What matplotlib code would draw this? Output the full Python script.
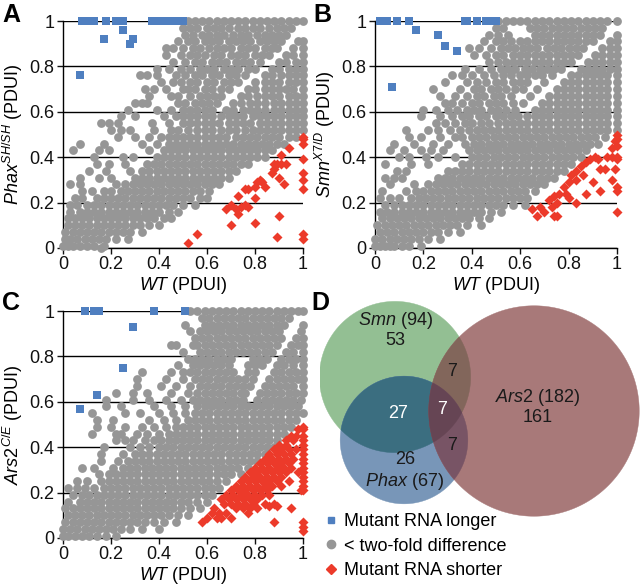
import numpy as np
import matplotlib
matplotlib.use("Agg")
import matplotlib.pyplot as plt
from matplotlib.patches import Polygon
from matplotlib.lines import Line2D

plt.rcParams['font.family'] = ['Liberation Sans', 'DejaVu Sans']
plt.rcParams['mathtext.fontset'] = 'custom'
plt.rcParams['mathtext.rm'] = 'Liberation Sans'
plt.rcParams['mathtext.it'] = 'Liberation Sans:italic'

# ---- data (values in hundredths, "y: x x x ...") ----
TICKS = [0, 0.2, 0.4, 0.6, 0.8, 1.0]
TICK_LABELS = ["0", "0.2", "0.4", "0.6", "0.8", "1"]

GRAY_A = """
100: 52 55 58 61 64 67 70 73 76 79 82 85 88 91 94 97 100
97: 50 53 56 60 63 66 69 73 76 79 82 86 89 92 95
94: 51 54 58 61 64 67 71 74 77 81 84 87 90 93
91: 48 52 55 59 62 65 69 72 75 78 82 85 88 91 98 100
88: 43 46 50 54 57 61 64 67 70 74 77 80 84 87 89 96 100
85: 43 49 53 56 59 63 66 70 73 76 80 83 86 93 96 100
82: 46 51 55 58 62 65 68 72 75 78 82 90 93 97 100
79: 39 44 49 53 57 60 63 67 70 73 77 80 87 90 94 97 100
76: 32 35 39 47 51 55 58 62 65 69 72 76 84 87 91 94 97 100
73: 41 46 49 53 56 60 63 67 70 73 80 84 87 90 94 97 100
70: 34 38 43 50 52 55 59 62 66 69 77 80 84 87 90 93 96 100
67: 36 45 48 53 57 60 63 66 74 77 81 84 87 90 94 97 100
64: 30 33 35 48 51 55 58 61 64 71 74 78 81 84 88 91 94 97 100
61: 27 39 45 50 53 56 59 62 68 71 75 78 81 84 88 91 94 97 100
58: 24 30 42 47 50 53 56 59 62 66 69 72 75 79 82 85 88 91 94 97 100
55: 16 19 23 37 44 50 53 56 59 62 65 69 72 75 78 82 85 88 91 94 97 100
52: 20 24 28 38 45 48 52 56 59 62 66 69 72 76 79 82 85 88 91 94 97 100
49: 23 30 36 41 44 47 50 53 56 59 62 65 68 72 75 78 81 84 87 90 94 97
46: 7 17 33 39 44 47 50 53 56 59 62 65 68 71 74 77 80 83 86 89 92
43: 4 15 19 36 42 45 48 51 54 57 60 63 66 69 72 75 78 81 84 87
40: 13 25 29 39 42 45 48 51 54 57 60 63 66 69 72 75 78 81 84
37: 14 19 26 35 38 41 44 47 50 53 56 59 62 65 68 71 74 77
34: 11 18 28 33 36 39 42 45 48 51 54 57 60 63 66 69 72
31: 7 15 20 30 33 36 39 42 45 48 51 54 57 60 63 66 69
28: 3 7 22 26 29 32 35 38 41 44 47 50 53 56 59 62 65
25: 8 12 17 20 24 27 30 33 36 39 42 45 48 51 54 57 61
22: 5 8 14 17 20 23 26 29 32 35 38 41 44 47 50 53 57 60
19: 3 6 10 13 16 19 22 25 28 31 34 37 40 43 46 50 55
16: 3 7 10 13 16 19 22 25 28 31 34 37 40 44 48
13: 2 5 8 11 14 17 20 23 26 29 32 35 38 42 45
10: 2 5 8 11 14 17 20 23 26 29 32 36 40
7: 1 4 7 10 13 16 19 22 25 28 33
4: 1 3 6 9 12 15 18 22 27
1: 0 2 4 7 10 13 17
0: 16
"""

GRAY_B = """
100: 51 54 57 60 63 66 69 72 75 78 81 84 87 90 93 96 100
97: 50 53 64 67 70 73 76 79 82 85 88 91 94
94: 47 51 55 66 69 72 75 78 81 84 87 90 93 100
91: 45 50 53 56 60 63 66 69 72 75 78 81 84 87 90 97 100
88: 39 43 48 52 55 58 61 64 67 71 74 77 80 83 86 94 97 100
85: 41 46 50 53 57 60 63 66 69 72 75 78 81 84 91 94 97 100
82: 47 51 54 57 60 63 66 69 72 75 78 81 88 91 94 97 100
79: 37 43 48 52 55 58 62 65 68 71 74 77 85 88 91 94 97 100
76: 32 36 40 45 49 53 56 60 63 66 69 73 81 84 87 90 93 96 100
73: 29 38 42 46 50 53 57 60 63 70 78 81 84 87 90 93 96 100
70: 24 35 41 44 48 51 54 58 61 67 75 78 81 84 87 90 93 96 100
67: 27 33 38 42 45 49 52 56 64 72 75 78 81 84 87 90 93 96 100
64: 29 32 36 40 43 47 50 53 57 61 69 72 75 78 81 84 87 90 93 96 100
61: 20 25 30 34 38 41 44 48 51 54 58 66 69 72 75 78 81 84 87 90 93 96 100
58: 19 27 32 36 39 43 46 50 53 56 59 63 66 69 72 75 78 81 84 87 90 93 96 100
55: 25 29 33 37 40 44 47 51 54 57 60 63 66 69 72 75 78 81 84 87 90 93 96 100
52: 13 22 26 31 35 39 42 45 48 51 54 57 60 63 66 69 72 75 78 81 84 87 90 93 96 100
49: 14 19 27 33 36 40 43 46 49 52 55 58 61 64 67 70 73 76 79 82 85 88 91 95
46: 8 16 24 30 37 41 44 47 50 53 56 59 62 65 68 71 74 77 80 83 86 89 92
43: 6 12 19 23 28 39 42 45 48 51 54 57 60 63 66 69 72 75 78 81 84 87
40: 10 14 21 26 33 40 43 46 49 52 55 58 61 64 67 70 73 76 79 82 85
37: 4 15 22 36 39 42 45 48 51 54 57 60 63 66 69 72 75 78 81
34: 9 13 30 33 36 39 42 45 48 51 54 57 60 63 66 69 72 75 78
31: 4 8 11 26 29 32 35 38 41 44 47 50 53 56 59 62 65 68 71 74
28: 6 16 22 25 28 31 34 37 40 43 46 49 52 55 58 61 64 67 70
25: 3 13 17 20 23 26 29 32 35 38 41 44 47 50 53 56 59 62 66
22: 2 6 10 15 18 21 24 27 30 33 36 39 42 45 48 51 54 57 60 63
19: 4 8 11 14 17 20 23 26 29 32 35 38 41 44 47 50 53 57 62
16: 2 5 8 11 14 17 20 23 26 29 32 35 38 41 44 48 52
13: 3 6 9 12 15 18 21 24 27 30 33 36 39 43 47
10: 1 4 7 10 13 16 19 22 25 28 31 34 38 44
7: 2 5 8 11 14 17 20 23 26 30 35
4: 0 3 6 9 12 15 18 22 27
1: 0 2 4 6 8 11 14 19
"""

GRAY_C = """
100: 53 56 59 62 65 68 71 74 77 80 83 86 89 92 95 98 100
97: 58 61 64 67 70 73 76 79 82 85 88 91 94
94: 51 59 62 65 68 71 74 77 80 83 86 89 92 100
91: 53 57 60 63 66 69 72 75 78 81 84 87 90 99
88: 55 58 61 64 67 70 73 76 79 82 85 88 91 97 100
85: 45 47 54 56 59 62 65 68 71 74 77 80 83 86 89 95 98 100
82: 50 57 60 63 66 69 72 75 78 81 84 87 93 96 100
79: 52 55 58 61 64 67 70 79 82 85 91 94 97 100
76: 48 54 57 60 63 66 69 77 80 83 89 92 96 100
73: 33 45 50 53 56 59 62 65 68 71 77 80 88 91 94 97 100
70: 31 43 50 55 58 61 64 67 70 73 76 79 86 89 92 95 98 100
67: 31 41 47 53 57 60 63 66 69 72 75 78 84 87 90 93 96 100
64: 22 29 35 45 52 56 59 62 65 68 71 74 76 82 85 88 91 94 97 100
61: 18 29 36 43 49 54 57 60 63 66 69 72 75 81 84 87 90 93 96 99
58: 18 24 38 45 51 56 59 62 65 68 71 74 77 80 83 86 89 92 95 98
55: 12 26 32 40 46 51 55 58 61 64 67 70 73 76 79 82 85 88 91 94 97 100
52: 14 21 36 42 47 52 55 58 61 64 67 70 73 76 79 82 85 88 91 94 97
49: 14 20 26 33 38 43 47 50 53 56 59 62 65 68 71 74 77 80 83 86 89 92 95
46: 12 22 24 31 35 40 44 47 50 53 56 59 62 65 68 71 74 77 80 83 86 89 92
43: 22 26 29 34 38 41 44 47 50 53 56 59 62 65 68 71 74 77 80 83 86 89
40: 17 28 32 36 40 43 46 49 52 55 58 61 64 67 70 73 76 79 82 85 88
37: 16 25 30 33 36 39 42 45 48 51 54 57 60 63 66 69 72 75 78 81 84
34: 16 23 27 30 33 36 39 42 45 48 51 54 57 60 63 66 69 72 75 78 81
31: 8 13 21 25 28 31 34 37 40 43 46 49 52 55 58 61 64 67 70 73 77
28: 15 19 22 25 28 31 34 37 40 43 46 49 52 55 58 61 64 67 70 74
25: 6 10 16 19 22 25 28 31 34 37 40 43 46 49 52 55 58 61 64 68
22: 2 6 9 13 17 20 23 26 29 32 35 38 41 44 47 50 53 56 59 62 65
19: 4 8 11 14 17 20 23 26 29 32 35 38 41 44 47 50 53 56 59 62
16: 2 7 10 13 16 19 22 25 28 31 34 37 40 43 46 49 52 56 60
13: 1 4 7 10 13 16 19 22 25 28 31 34 37 40 43 46 49 53 57
10: 2 5 8 11 14 17 20 23 26 29 32 35 38 41 44 48 52
7: 1 4 7 10 13 16 19 22 25 28 31 34 38 42 47
4: 0 3 6 9 12 15 18 21 24 28 33 40
1: 0 2 5 8 11 14 18 22
"""

RED_A = """
49: 100
48: 100
46: 100
44: 94
41: 91
39: 100
37: 88 89 91 93
35: 88
33: 87 100
31: 90
30: 82 100
29: 81 83
28: 92
27: 80 84
26: 76 77 100
23: 73
22: 80
19: 70 76
18: 74 77
17: 68 72
15: 73
14: 90
11: 80
10: 70
6: 56 100
5: 89
4: 100
2: 52
"""

RED_B = """
50: 100
48: 100
47: 99
45: 100
44: 98
40: 91 96 98 100
39: 89 92 100
38: 87
36: 85
35: 93 95 99
34: 83
32: 81 86
30: 83 98
29: 80 90
27: 78 100
25: 93 100
24: 76 79 87
23: 74
22: 80
21: 72
20: 75 83
18: 68 73
17: 65
16: 70 100
14: 67 74 75
"""

RED_C = """
49: 100
48: 98 100
45: 95 97 100
43: 93 96 100
41: 90 93 100
39: 88 91 94 97 100
37: 86 89 92 95 100
35: 84 87 90 93 96 100
33: 82 85 88 91 94 100
31: 80 83 86 89 92 95 100
29: 78 81 84 87 90 93 98 100
27: 76 79 82 85 88 91 100
25: 74 77 80 83 86 89 94 100
23: 72 75 78 81 84 87 91 100
21: 70 73 76 79 82 85 99 100
19: 68 71 74 77 80 83 86
17: 66 69 72 75 78 81
15: 67 70 73 76 79 84 88
14: 86 89
13: 63 72 75 78 81 95
11: 62 65 68 77
9: 60 64 66 70
7: 58 88 100
5: 100
3: 100
"""

BLUE_A = """
100: 8 10 13 18 22 25 37 39 41 43 45 47 50
96: 25
92: 17 29
90: 28
76: 7
"""

BLUE_B = """
100: 2 5 9 14 37 38 42 46 48 50
96: 17
94: 26
89: 29
87: 34
71: 7
"""

BLUE_C = """
100: 9 13 15 38 51
93: 29
75: 25
63: 14
57: 7
"""

LEGEND_LABELS = ["Mutant RNA longer", "< two-fold difference", "Mutant RNA shorter"]

# Venn counts
SMN_TOTAL, PHAX_TOTAL, ARS2_TOTAL = 94, 67, 182
SMN_ONLY, PHAX_ONLY, ARS2_ONLY = 53, 26, 161
SMN_PHAX, SMN_ARS2, PHAX_ARS2, ALL_THREE = 27, 7, 7, 7

GRAY = "#969696"
BLUE = "#4f7fc0"
RED = "#ec3a2a"


def parse_rows(text):
    xs, ys = [], []
    for line in text.strip().splitlines():
        y, vals = line.split(":")
        for v in vals.split():
            xs.append(int(v) / 100)
            ys.append(int(y) / 100)
    return np.array(xs), np.array(ys)


fig = plt.figure(figsize=(6.4, 5.87), dpi=100)
W, H = 640, 587


def add_panel(left_px, top_px, w_px, h_px):
    return fig.add_axes([left_px / W, 1 - (top_px + h_px) / H, w_px / W, h_px / H])


def scatter_panel(ax, gray, red, blue, ylabel):
    gx, gy = parse_rows(gray)
    rx, ry = parse_rows(red)
    bx, by = parse_rows(blue)
    ax.scatter(gx, gy, s=40, c=GRAY, marker='o', linewidths=0, clip_on=False, zorder=3)
    ax.scatter(rx, ry, s=26, c=RED, marker='D', linewidths=0, clip_on=False, zorder=4)
    ax.scatter(bx, by, s=30, c=BLUE, marker='s', linewidths=0, clip_on=False, zorder=4)
    ax.set_xlim(0, 1)
    ax.set_ylim(0, 1)
    ax.set_xticks(TICKS)
    ax.set_xticklabels(TICK_LABELS)
    ax.set_yticks(TICKS)
    ax.set_yticklabels(TICK_LABELS)
    for s in ['top', 'right']:
        ax.spines[s].set_visible(False)
    for s in ['left', 'bottom']:
        ax.spines[s].set_linewidth(1.0)
        ax.spines[s].set_color('black')
    ax.tick_params(direction='out', length=4, width=1, labelsize=13, pad=2, colors='#111111')
    ax.yaxis.grid(True, color='black', lw=1.0)
    ax.set_axisbelow(True)
    ax.set_xlabel(r'$\mathit{WT}$ (PDUI)', fontsize=13, labelpad=1)
    ax.set_ylabel(ylabel, fontsize=13, labelpad=3)


ax_a = add_panel(63, 21, 240, 227)
scatter_panel(ax_a, GRAY_A, RED_A, BLUE_A, r'$\mathit{Phax}^{\mathit{SH/SH}}$ (PDUI)')
ax_b = add_panel(375, 21, 242, 227)
scatter_panel(ax_b, GRAY_B, RED_B, BLUE_B, r'$\mathit{Smn}^{\mathit{X7/D}}$ (PDUI)')
ax_c = add_panel(63, 311, 240, 227)
scatter_panel(ax_c, GRAY_C, RED_C, BLUE_C, r'$\mathit{Ars2}^{\mathit{C/E}}$ (PDUI)')

for letter, (px, py) in zip("ABCD", [(2, 3), (313, 3), (2, 291), (311, 291)]):
    fig.text(px / W, 1 - py / H, letter, fontsize=18, fontweight='bold', ha='left', va='top')

# ---- Venn diagram (D), axes in pixel units ----
ax_d = fig.add_axes([320 / W, 0, 320 / W, 297 / H])
ax_d.set_xlim(320, 640)
ax_d.set_ylim(587, 290)
ax_d.axis('off')

k = 7.8
circles = {
    'smn': ((395, 377), k * np.sqrt(SMN_TOTAL)),
    'phax': ((404, 440), k * np.sqrt(PHAX_TOTAL)),
    'ars2': ((534, 411), k * np.sqrt(ARS2_TOTAL)),
}


def circle_pts(c, r, n=720):
    t = np.linspace(0, 2 * np.pi, n, endpoint=False)
    return np.column_stack([c[0] + r * np.cos(t), c[1] + r * np.sin(t)])


def region(names):
    # boundary of the intersection of the named circles (convex, so sort by angle)
    pts = []
    for nm in names:
        c, r = circles[nm]
        p = circle_pts(c, r)
        keep = np.ones(len(p), bool)
        for other in names:
            if other == nm:
                continue
            oc, orad = circles[other]
            keep &= np.hypot(p[:, 0] - oc[0], p[:, 1] - oc[1]) <= orad + 1e-6
        pts.append(p[keep])
    pts = np.vstack(pts)
    cen = pts.mean(axis=0)
    order = np.argsort(np.arctan2(pts[:, 1] - cen[1], pts[:, 0] - cen[0]))
    return pts[order]


fills = [
    (['smn'], "#93bf93"),
    (['phax'], "#7896b8"),
    (['ars2'], "#a87979"),
    (['smn', 'phax'], "#3b6e80"),
    (['smn', 'ars2'], "#82665b"),
    (['phax', 'ars2'], "#785465"),
    (['smn', 'phax', 'ars2'], "#664554"),
]
for names, col in fills:
    ax_d.add_patch(Polygon(region(names), closed=True, facecolor=col, edgecolor=col, lw=0.3))

dark = "#1a1a1a"
venn_text = [
    (395, 320, r'$\mathit{Smn}$ (94)', dark),
    (395, 340, str(SMN_ONLY), dark),
    (452, 371, str(SMN_ARS2), dark),
    (398, 413, str(SMN_PHAX), 'white'),
    (442, 409, str(ALL_THREE), 'white'),
    (452, 445, str(PHAX_ARS2), dark),
    (405, 460, str(PHAX_ONLY), dark),
    (404, 482, r'$\mathit{Phax}$ (67)', dark),
    (538, 398, r'$\mathit{Ars2}$ (182)', dark),
    (538, 417, str(ARS2_ONLY), dark),
]
for x, y, s, col in venn_text:
    ax_d.text(x, y, s, fontsize=13, color=col, ha='center', va='center')

handles = [
    Line2D([], [], ls='none', marker='s', ms=5, color=BLUE),
    Line2D([], [], ls='none', marker='o', ms=6, color=GRAY),
    Line2D([], [], ls='none', marker='D', ms=5, color=RED),
]
fig.legend(handles, LEGEND_LABELS,
           loc='upper left', bbox_to_anchor=(324 / W, 1 - 513 / H), frameon=False,
           fontsize=13, handlelength=0.8, handletextpad=0.3, labelspacing=0.42,
           borderpad=0, borderaxespad=0)

fig.savefig('out.png', dpi=100)
